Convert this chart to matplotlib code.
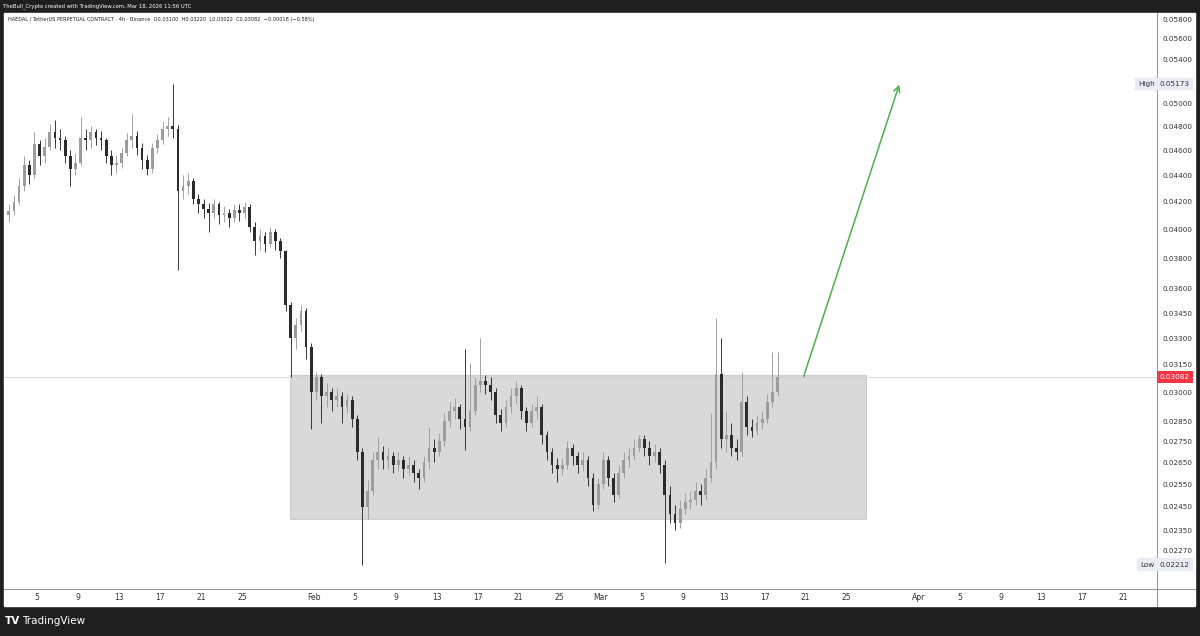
import numpy as np
import pandas as pd
import matplotlib
matplotlib.use('Agg')
import matplotlib.pyplot as plt
from matplotlib.patches import Rectangle
from matplotlib.lines import Line2D
from matplotlib.ticker import NullLocator, NullFormatter
import matplotlib.transforms as mtransforms

# 12h candles, HAEDAL/USDT, starting Jan 2 2026
first_open = 0.0410
close = [0.0413, 0.0420, 0.0432, 0.0448, 0.0440, 0.0465, 0.0455, 0.0463, 0.0475, 0.0470,
         0.0468, 0.0455, 0.0445, 0.0450, 0.0470, 0.0468, 0.0475, 0.0470, 0.0468, 0.0455,
         0.0448, 0.0450, 0.0458, 0.0468, 0.0472, 0.0462, 0.0452, 0.0445, 0.0462, 0.0468,
         0.0478, 0.0480, 0.0478, 0.0428, 0.0432, 0.0436, 0.0422, 0.0418, 0.0415, 0.0412,
         0.0418, 0.0410, 0.0412, 0.0408, 0.0414, 0.0412, 0.0416, 0.0402, 0.0392, 0.0395,
         0.0390, 0.0398, 0.0392, 0.0385, 0.0350, 0.0330, 0.0338, 0.0346, 0.0325, 0.0300,
         0.0308, 0.0298, 0.0300, 0.0296, 0.0298, 0.0292, 0.0296, 0.0286, 0.0270, 0.0245,
         0.0252, 0.0266, 0.0270, 0.0266, 0.0268, 0.0264, 0.0266, 0.0262, 0.0264, 0.0260,
         0.0258, 0.0265, 0.0272, 0.0270, 0.0275, 0.0285, 0.0290, 0.0292, 0.0286, 0.0282,
         0.0290, 0.0304, 0.0306, 0.0304, 0.0300, 0.0288, 0.0284, 0.0292, 0.0298, 0.0302,
         0.0290, 0.0284, 0.0290, 0.0292, 0.0278, 0.0270, 0.0264, 0.0262, 0.0264, 0.0272,
         0.0268, 0.0264, 0.0266, 0.0258, 0.0246, 0.0255, 0.0266, 0.0258, 0.0250, 0.0260,
         0.0266, 0.0268, 0.0272, 0.0276, 0.0272, 0.0268, 0.0270, 0.0264, 0.0250, 0.0242,
         0.0238, 0.0244, 0.0247, 0.0248, 0.0252, 0.0250, 0.0258, 0.0265, 0.0310, 0.0276,
         0.0278, 0.0272, 0.0270, 0.0295, 0.0282, 0.0280, 0.0284, 0.0286, 0.0295, 0.0300,
         0.03082]
high = [0.0418, 0.0425, 0.0438, 0.0455, 0.0452, 0.0475, 0.0468, 0.0470, 0.0482, 0.0485,
        0.0478, 0.0472, 0.0460, 0.0458, 0.0488, 0.0478, 0.0480, 0.0478, 0.0476, 0.0470,
        0.0460, 0.0456, 0.0462, 0.0474, 0.0490, 0.0476, 0.0466, 0.0456, 0.0466, 0.0473,
        0.0484, 0.0488, 0.05173, 0.0481, 0.0440, 0.0442, 0.0438, 0.0426, 0.0422, 0.0419,
        0.0422, 0.0420, 0.0417, 0.0415, 0.0418, 0.0418, 0.0420, 0.0418, 0.0405, 0.0400,
        0.0398, 0.0402, 0.0400, 0.0394, 0.0386, 0.0352, 0.0342, 0.0350, 0.0348, 0.0327,
        0.0311, 0.0310, 0.0305, 0.0302, 0.0302, 0.0300, 0.0299, 0.0298, 0.0288, 0.0272,
        0.0257, 0.0270, 0.0277, 0.0273, 0.0272, 0.0270, 0.0270, 0.0268, 0.0268, 0.0266,
        0.0262, 0.0268, 0.0282, 0.0276, 0.0279, 0.0289, 0.0295, 0.0297, 0.0294, 0.0324,
        0.0316, 0.0308, 0.0330, 0.0309, 0.0308, 0.0302, 0.0291, 0.0296, 0.0302, 0.0306,
        0.0304, 0.0292, 0.0294, 0.0298, 0.0294, 0.0280, 0.0272, 0.0267, 0.0267, 0.0275,
        0.0274, 0.0270, 0.0270, 0.0268, 0.0260, 0.0258, 0.0270, 0.0268, 0.0260, 0.0264,
        0.0270, 0.0272, 0.0276, 0.0278, 0.0278, 0.0275, 0.0274, 0.0272, 0.0266, 0.0254,
        0.0246, 0.0248, 0.0251, 0.0252, 0.0256, 0.0255, 0.0262, 0.0289, 0.0342, 0.0330,
        0.0290, 0.0284, 0.0276, 0.0311, 0.0298, 0.0286, 0.0288, 0.0290, 0.0299, 0.0322,
        0.0322]
low = [0.0405, 0.0410, 0.0418, 0.0428, 0.0433, 0.0438, 0.0448, 0.0450, 0.0460, 0.0462,
       0.0460, 0.0450, 0.0432, 0.0440, 0.0448, 0.0460, 0.0462, 0.0464, 0.0460, 0.0450,
       0.0440, 0.0442, 0.0446, 0.0455, 0.0462, 0.0456, 0.0445, 0.0440, 0.0442, 0.0458,
       0.0465, 0.0472, 0.0470, 0.0372, 0.0422, 0.0426, 0.0418, 0.0412, 0.0408, 0.0398,
       0.0408, 0.0404, 0.0405, 0.0402, 0.0405, 0.0406, 0.0408, 0.0398, 0.0382, 0.0386,
       0.0384, 0.0388, 0.0386, 0.0380, 0.0346, 0.0308, 0.0324, 0.0334, 0.0318, 0.0281,
       0.0296, 0.0284, 0.0292, 0.0290, 0.0292, 0.0284, 0.0289, 0.0282, 0.0266, 0.02212,
       0.0240, 0.0250, 0.0262, 0.0262, 0.0262, 0.0260, 0.0261, 0.0258, 0.0259, 0.0256,
       0.0253, 0.0256, 0.0262, 0.0265, 0.0268, 0.0273, 0.0282, 0.0286, 0.0281, 0.0271,
       0.0280, 0.0288, 0.0300, 0.0299, 0.0296, 0.0284, 0.0280, 0.0282, 0.0289, 0.0294,
       0.0286, 0.0280, 0.0282, 0.0286, 0.0274, 0.0266, 0.0260, 0.0256, 0.0259, 0.0262,
       0.0264, 0.0260, 0.0261, 0.0254, 0.0243, 0.0244, 0.0253, 0.0254, 0.0247, 0.0249,
       0.0258, 0.0263, 0.0266, 0.0270, 0.0268, 0.0264, 0.0265, 0.0260, 0.0222, 0.0238,
       0.0235, 0.0236, 0.0242, 0.0244, 0.0246, 0.0246, 0.0248, 0.0256, 0.0262, 0.0272,
       0.0270, 0.0268, 0.0266, 0.0268, 0.0278, 0.0277, 0.0278, 0.0281, 0.0284, 0.0292,
       0.0298]

times = pd.date_range('2026-01-02 00:00', periods=len(close), freq='12h')

# range box and projection arrow
zone_start, zone_end = pd.Timestamp('2026-01-29 17:00'), pd.Timestamp('2026-03-26 21:00')
zone_low, zone_high = 0.0240, 0.0309
arrow_start, arrow_end = pd.Timestamp('2026-03-20 17:00'), pd.Timestamp('2026-03-30 05:00')
arrow_p0, arrow_p1 = 0.0307, 0.0519

last_price = 0.03082
high_price, low_price = 0.05173, 0.02212

price_ticks = [0.05800, 0.05600, 0.05400, 0.05000, 0.04800, 0.04600, 0.04400, 0.04200,
               0.04000, 0.03800, 0.03600, 0.03450, 0.03300, 0.03150, 0.03000, 0.02850,
               0.02750, 0.02650, 0.02550, 0.02450, 0.02350, 0.02270]
date_ticks = ['2026-01-05', '2026-01-09', '2026-01-13', '2026-01-17', '2026-01-21', '2026-01-25',
              '2026-02-01', '2026-02-05', '2026-02-09', '2026-02-13', '2026-02-17', '2026-02-21',
              '2026-02-25', '2026-03-01', '2026-03-05', '2026-03-09', '2026-03-13', '2026-03-17',
              '2026-03-21', '2026-03-25', '2026-04-01', '2026-04-05', '2026-04-09', '2026-04-13',
              '2026-04-17', '2026-04-21']
date_labels = ['5', '9', '13', '17', '21', '25', 'Feb', '5', '9', '13', '17', '21', '25',
               'Mar', '5', '9', '13', '17', '21', '25', 'Apr', '5', '9', '13', '17', '21']

t0 = pd.Timestamp('2026-01-01')
def to_day(t):
    return (pd.to_datetime(t) - t0) / pd.Timedelta(days=1)

W, H = 1200, 636
fig = plt.figure(figsize=(12, 6.36), dpi=100, facecolor='#1f1f1f')

# white chart panel (behind the axes)
panel = Rectangle((4 / W, 1 - 606 / H), 1191 / W, 593 / H,
                  transform=fig.transFigure, color='white', zorder=-10)
fig.patches.append(panel)

ax = fig.add_axes([4 / W, 1 - 589 / H, 1153 / W, 576 / H])
ax.set_zorder(1)
ax.set_facecolor('white')
for s in ax.spines.values():
    s.set_visible(False)

o = np.r_[first_open, close[:-1]]
c = np.array(close)
hi = np.array(high)
lo = np.array(low)
xs = np.asarray(to_day(times)) + 0.25
up = c >= o
cols = np.where(up, '#9c9c9c', '#2b2b2b')

ax.add_patch(Rectangle((to_day(zone_start), zone_low), to_day(zone_end) - to_day(zone_start),
                       zone_high - zone_low, fc='#d9d9d9', ec='#cdcdcd', lw=0.8, zorder=1))
ax.axhline(last_price, color='#d2d2d2', lw=0.6, zorder=1)

ax.vlines(xs, lo, hi, colors=cols, lw=0.65, zorder=3)
ax.bar(xs, np.maximum(np.abs(c - o), 0.00005), bottom=np.minimum(o, c), width=0.26,
       color=cols, zorder=4)

ax.annotate('', xy=(to_day(arrow_end), arrow_p1), xytext=(to_day(arrow_start), arrow_p0),
            arrowprops=dict(arrowstyle='->', color='#4caf50', lw=1.1, mutation_scale=11),
            zorder=5)

ax.set_yscale('log')
ax.set_xlim(0.78, 113.27)
ax.set_ylim(0.02119, 0.05862)
ax.yaxis.tick_right()
ax.set_yticks(price_ticks)
ax.set_yticklabels([f'{v:.5f}' for v in price_ticks])
ax.yaxis.set_minor_locator(NullLocator())
ax.yaxis.set_minor_formatter(NullFormatter())
ax.tick_params(axis='y', length=0, pad=4, labelsize=5.2, labelcolor='#333333')

ax.set_xticks([to_day(d) for d in date_ticks])
ax.set_xticklabels(date_labels)
ax.tick_params(axis='x', length=0, pad=3, labelsize=5.5, labelcolor='#333333')

# axis separator lines
fig.add_artist(Line2D([1157 / W, 1157 / W], [1 - 13 / H, 1 - 606 / H],
                      transform=fig.transFigure, color='#9a9a9a', lw=0.8, zorder=2))
fig.add_artist(Line2D([4 / W, 1195 / W], [1 - 589 / H, 1 - 589 / H],
                      transform=fig.transFigure, color='#9a9a9a', lw=0.8, zorder=2))

# price labels on axis
blend = mtransforms.blended_transform_factory(fig.transFigure, ax.transData)
fig.text(1175 / W, last_price, '0.03082', transform=blend, ha='center', va='center',
         fontsize=5.2, color='white', zorder=3,
         bbox=dict(boxstyle='square,pad=0.45', fc='#f23645', ec='none'))
for name, val in [('High', high_price), ('Low', low_price)]:
    fig.text(1175 / W, val, f'{val:.5f}', transform=blend, ha='center', va='center',
             fontsize=5.2, color='#333333', zorder=3,
             bbox=dict(boxstyle='square,pad=0.45', fc='#e8ecf3', ec='none'))
    fig.text(1147 / W, val, name, transform=blend, ha='center', va='center',
             fontsize=5.2, color='#333333', zorder=3,
             bbox=dict(boxstyle='square,pad=0.45', fc='#e8ecf3', ec='none'))

# header texts
fig.text(3 / W, 1 - 6 / H, 'TheBull_Crypto created with TradingView.com, Mar 18, 2026 11:56 UTC',
         color='white', fontsize=3.8, va='center')
fig.text(8 / W, 1 - 20 / H,
         'HAEDAL / TetherUS PERPETUAL CONTRACT · 4h · Binance  O0.03100  H0.03220  '
         'L0.03022  C0.03082  \u22120.00018 (\u22120.58%)',
         color='#222222', fontsize=3.6, va='center', zorder=3)

# footer logo
fig.text(5 / W, 1 - 621 / H, 'TV', color='white', fontsize=7.5, fontweight='bold', va='center')
fig.text(22 / W, 1 - 621 / H, 'TradingView', color='white', fontsize=7.5, va='center')

fig.savefig('out.png', dpi=100, facecolor=fig.get_facecolor())
